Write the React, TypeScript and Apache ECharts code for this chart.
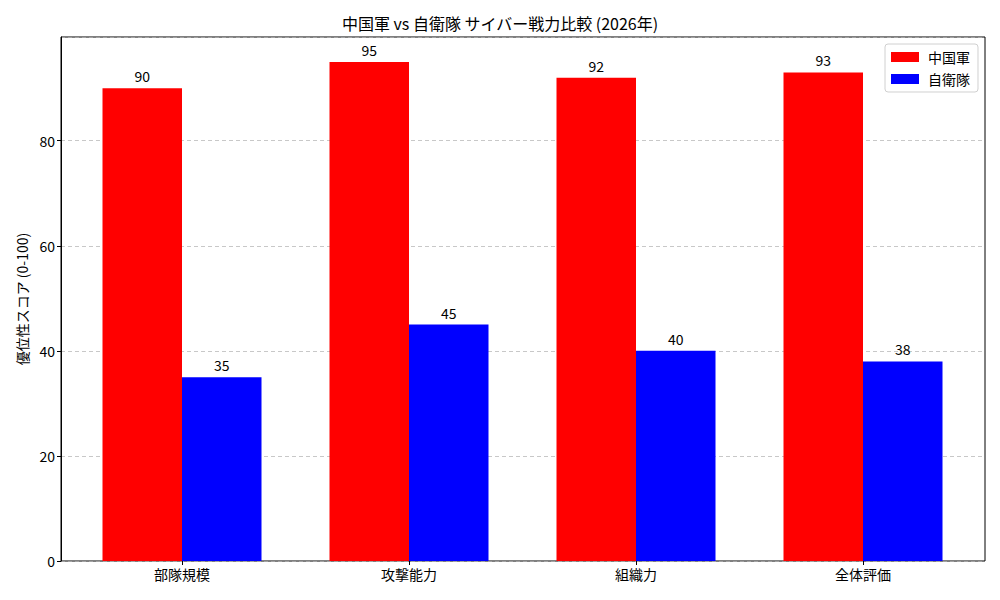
import React, { useEffect, useRef } from "react";
import * as echarts from "echarts";

const categories = ["部隊規模", "攻撃能力", "組織力", "全体評価"];
const chinaValues = [90, 95, 92, 93];
const japanValues = [35, 45, 40, 38];
const seriesNames = ["中国軍", "自衛隊"];
const yTicks = [0, 20, 40, 60, 80];

const FONT = "Noto Sans CJK JP";

export default function App() {
  const ref = useRef<HTMLDivElement>(null);
  useEffect(() => {
    document.body.style.margin = "0";
    const chart = echarts.init(ref.current!, null, { renderer: "svg" });
    const yMax = 99.75;
    chart.setOption({
      animation: false,
      backgroundColor: "#fff",
      textStyle: { fontFamily: FONT },
      title: {
        text: "中国軍 vs 自衛隊 サイバー戦力比較 (2026年)",
        left: "center",
        top: 10,
        textStyle: { fontFamily: FONT, fontSize: 16, fontWeight: "normal", color: "#000" },
      },
      legend: {
        data: seriesNames.map((n) => ({ name: n, icon: "rect" })),
        orient: "vertical",
        right: 22,
        top: 44,
        itemWidth: 28,
        itemHeight: 10,
        itemGap: 8,
        padding: [6, 8, 6, 6],
        borderColor: "#d0d0d0",
        borderWidth: 1,
        borderRadius: 3,
        backgroundColor: "rgba(255,255,255,0.8)",
        textStyle: { fontFamily: FONT, fontSize: 14, color: "#000", padding: [0, 0, 0, 4] },
      },
      grid: [
        { left: 61, right: 15, top: 37, bottom: 39, show: true, borderColor: "#000", borderWidth: 1, backgroundColor: "transparent" },
        { left: 68.5, right: 23.5, top: 37, bottom: 39 },
      ],
      xAxis: [
        { type: "value", gridIndex: 0, min: 0, max: 1, show: false },
        {
          type: "category",
          gridIndex: 1,
          data: categories,
          axisLine: { show: false },
          axisTick: { show: true, alignWithLabel: true, length: 4, lineStyle: { color: "#000" } },
          axisLabel: { fontFamily: FONT, fontSize: 14, color: "#000", margin: 6 },
        },
      ],
      yAxis: [
        {
          type: "value",
          gridIndex: 0,
          min: 0,
          max: yMax,
          interval: 20,
          name: "優位性スコア (0-100)",
          nameLocation: "middle",
          nameGap: 32,
          nameTextStyle: { fontFamily: FONT, fontSize: 14, color: "#000" },
          axisLine: { show: true, lineStyle: { color: "#000" } },
          axisTick: { show: true, length: 4, lineStyle: { color: "#000" } },
          axisLabel: {
            fontFamily: FONT,
            fontSize: 14,
            color: "#000",
            margin: 6,
            showMaxLabel: false,
            formatter: (v: number) => (yTicks.includes(v) ? String(v) : ""),
          },
          splitLine: { show: true, lineStyle: { color: "rgba(176,176,176,0.7)", type: [4, 3], width: 1 } },
        },
        { type: "value", gridIndex: 1, min: 0, max: yMax, show: false },
      ],
      series: [
        {
          name: seriesNames[0],
          type: "bar",
          xAxisIndex: 1,
          yAxisIndex: 1,
          data: chinaValues,
          barWidth: 79.5,
          barGap: "0%",
          itemStyle: { color: "#ff0000" },
          label: { show: true, position: "top", distance: 5, fontFamily: FONT, fontSize: 14, color: "#000" },
        },
        {
          name: seriesNames[1],
          type: "bar",
          xAxisIndex: 1,
          yAxisIndex: 1,
          data: japanValues,
          barWidth: 79.5,
          barGap: "0%",
          itemStyle: { color: "#0000ff" },
          label: { show: true, position: "top", distance: 5, fontFamily: FONT, fontSize: 14, color: "#000" },
        },
      ],
    });
    return () => chart.dispose();
  }, []);
  return <div ref={ref} style={{ position: "fixed", left: 0, top: 0, width: 1000, height: 600 }} />;
}
